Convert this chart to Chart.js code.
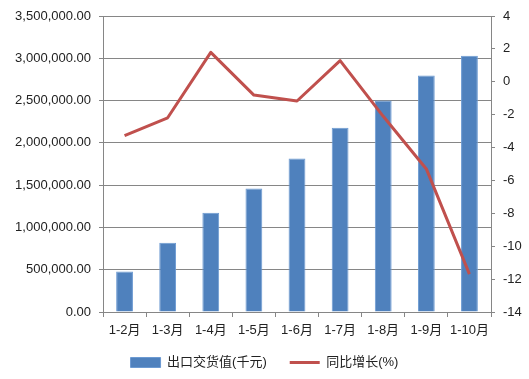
<!DOCTYPE html>
<html>
<head>
<meta charset="utf-8">
<script src="https://cdn.jsdelivr.net/npm/chart.js@4.4.1/dist/chart.umd.min.js"></script>
<style>
html,body{margin:0;padding:0;background:#fff;}
#wrap{width:529px;height:379px;position:relative;}
</style>
</head>
<body>
<div id="wrap"><canvas id="c" width="529" height="379"></canvas></div>
<script>
const categories = ['1-2月','1-3月','1-4月','1-5月','1-6月','1-7月','1-8月','1-9月','1-10月'];
const exportValues = [478000, 820000, 1175000, 1460000, 1815000, 2180000, 2500000, 2795000, 3030000];
const growthValues = [-3.28, -2.19, 1.79, -0.81, -1.17, 1.29, -2.1, -5.3, -11.7];
const barLabel = '出口交货值(千元)';
const lineLabel = '同比增长(%)';
const leftTicks = {min: 0, max: 3500000, step: 500000};
const rightTicks = {min: -14, max: 4, step: 2};

const FONT = '"Liberation Sans", "Noto Sans CJK SC", sans-serif';
const TEXT = '#222222';
const GRID = '#868686';

function fmt(v){
  const s = Number(v).toFixed(2);
  const [i, d] = s.split('.');
  return i.replace(/\B(?=(\d{3})+(?!\d))/g, ',') + '.' + d;
}

new Chart(document.getElementById('c'), {
  data: {
    labels: categories,
    datasets: [
      {
        type: 'bar',
        label: barLabel,
        data: exportValues,
        yAxisID: 'y',
        backgroundColor: '#4F81BD',
        borderColor: '#6C9AD2',
        borderWidth: 1,
        barPercentage: 0.39,
        categoryPercentage: 1,
        order: 2
      },
      {
        type: 'line',
        label: lineLabel,
        data: growthValues,
        yAxisID: 'y1',
        borderColor: '#C0504D',
        backgroundColor: '#C0504D',
        borderWidth: 3,
        pointRadius: 0,
        tension: 0,
        borderJoinStyle: 'round',
        order: 1
      }
    ]
  },
  options: {
    responsive: false,
    animation: false,
    devicePixelRatio: 1,
    layout: {padding: {top: 16, left: 0, right: 0, bottom: 0}},
    plugins: {
      tooltip: {enabled: false},
      legend: {
        position: 'bottom',
        labels: {
          usePointStyle: true,
          pointStyleWidth: 30,
          boxHeight: 10,
          padding: 10,
          color: TEXT,
          font: {family: FONT, size: 13},
          sort: (a, b) => a.datasetIndex - b.datasetIndex,
          generateLabels: (chart) => {
            const items = Chart.defaults.plugins.legend.labels.generateLabels(chart);
            items.forEach(it => {
              if (it.datasetIndex === 1) { it.pointStyle = 'line'; it.lineWidth = 3; it.strokeStyle = '#C0504D'; }
              else { it.pointStyle = 'rect'; it.lineWidth = 1; it.strokeStyle = '#6C9AD2'; it.fillStyle = '#4F81BD'; it.text = it.text + '\u3000'; }
            });
            return items;
          }
        }
      }
    },
    scales: {
      x: {
        type: 'category',
        offset: true,
        grid: {display: true, drawOnChartArea: false, offset: true, tickLength: 5, color: GRID},
        border: {display: true, color: GRID},
        ticks: {color: TEXT, font: {family: FONT, size: 13}, padding: 6, maxRotation: 0, autoSkip: false},
        afterFit: s => { s.height = 34; }
      },
      y: {
        position: 'left',
        min: leftTicks.min, max: leftTicks.max,
        grid: {color: GRID, tickLength: 4, drawTicks: true},
        border: {display: true, color: GRID},
        ticks: {stepSize: leftTicks.step, color: TEXT, font: {family: FONT, size: 13}, padding: 8, callback: v => fmt(v)},
        afterFit: s => { s.width = 103; }
      },
      y1: {
        position: 'right',
        min: rightTicks.min, max: rightTicks.max,
        grid: {drawOnChartArea: false, color: GRID, tickLength: 4, drawTicks: true},
        border: {display: true, color: GRID},
        ticks: {stepSize: rightTicks.step, color: TEXT, font: {family: FONT, size: 13}, padding: 8},
        afterFit: s => { s.width = 38; }
      }
    }
  }
});
</script>
</body>
</html>
